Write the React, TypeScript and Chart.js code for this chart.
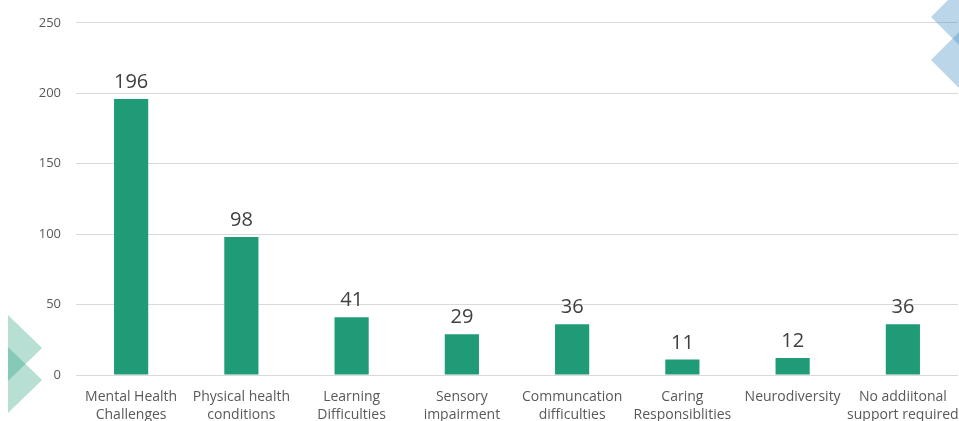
import React, { useEffect, useRef } from "react";
import { Chart, registerables } from "chart.js";

Chart.register(...registerables);

const categories: string[][] = [
  ["Mental Health", "Challenges"],
  ["Physical health", "conditions"],
  ["Learning", "Difficulties"],
  ["Sensory", "impairment"],
  ["Communcation", "difficulties"],
  ["Caring", "Responsiblities"],
  ["Neurodiversity"],
  ["No addiitonal", "support required"],
];
const values: number[] = [196, 98, 41, 29, 36, 11, 12, 36];
const yMax = 250;
const yStep = 50;

const BAR_COLOR = "#1F9B78";

const dataLabelPlugin = {
  id: "dataLabels",
  afterDatasetsDraw(chart: any) {
    const ctx = chart.ctx;
    const meta = chart.getDatasetMeta(0);
    ctx.save();
    ctx.font = '20px "Open Sans", sans-serif';
    ctx.fillStyle = "#404040";
    ctx.textAlign = "center";
    ctx.textBaseline = "alphabetic";
    meta.data.forEach((el: any, i: number) => {
      ctx.fillText(String(values[i]), el.x, el.y - 11);
    });
    ctx.restore();
  },
};

const decorPlugin = {
  id: "decor",
  afterDraw(chart: any) {
    const ctx = chart.ctx;
    const diamond = (cx: number, cy: number, hw: number, hh: number, color: string) => {
      ctx.beginPath();
      ctx.moveTo(cx - hw, cy);
      ctx.lineTo(cx, cy - hh);
      ctx.lineTo(cx + hw, cy);
      ctx.lineTo(cx, cy + hh);
      ctx.closePath();
      ctx.fillStyle = color;
      ctx.fill();
    };
    ctx.save();
    // left green decoration
    ctx.beginPath();
    ctx.rect(8, 0, 60, chart.height);
    ctx.clip();
    diamond(8, 348, 34, 33, "rgba(30,155,120,0.32)");
    diamond(8, 380, 34, 33, "rgba(30,155,120,0.32)");
    ctx.restore();
    ctx.save();
    // right blue decoration
    diamond(962, 17, 31, 31, "rgba(70,140,195,0.36)");
    diamond(962, 60, 31, 31, "rgba(70,140,195,0.36)");
    ctx.restore();
  },
};

export default function App() {
  const ref = useRef<HTMLCanvasElement | null>(null);
  useEffect(() => {
    document.body.style.margin = "0";
    if (!ref.current) return;
    const chart = new Chart(ref.current, {
      type: "bar",
      data: {
        labels: categories,
        datasets: [
          {
            data: values,
            backgroundColor: BAR_COLOR,
            borderWidth: 0,
            categoryPercentage: 1,
            barPercentage: 0.31,
          },
        ],
      },
      options: {
        animation: false,
        responsive: false,
        layout: { padding: { top: 22, right: 1, left: 1, bottom: 0 } },
        plugins: {
          legend: { display: false },
          tooltip: { enabled: false },
          title: { display: false },
        },
        scales: {
          x: {
            grid: { display: false, drawTicks: false },
            border: { display: false },
            ticks: {
              color: "#595959",
              font: { family: '"Open Sans", sans-serif', size: 14, lineHeight: 1.3 },
              padding: 13,
              maxRotation: 0,
              autoSkip: false,
            },
            afterFit(s: any) {
              s.height = 65;
              s.paddingLeft = 0;
              s.paddingRight = 0;
            },
          },
          y: {
            min: 0,
            max: yMax,
            grid: { color: "#D9D9D9", drawTicks: false, lineWidth: 1 },
            border: { display: false },
            ticks: {
              stepSize: yStep,
              color: "#595959",
              font: { family: '"Open Sans", sans-serif', size: 13 },
              padding: 15,
            },
            afterFit(s: any) {
              s.width = 75;
            },
          },
        },
      },
      plugins: [dataLabelPlugin, decorPlugin],
    });
    return () => chart.destroy();
  }, []);
  return (
    <div style={{ width: 959, height: 421, overflow: "hidden", background: "#fff" }}>
      <canvas ref={ref} width={959} height={440} style={{ display: "block" }} />
    </div>
  );
}
